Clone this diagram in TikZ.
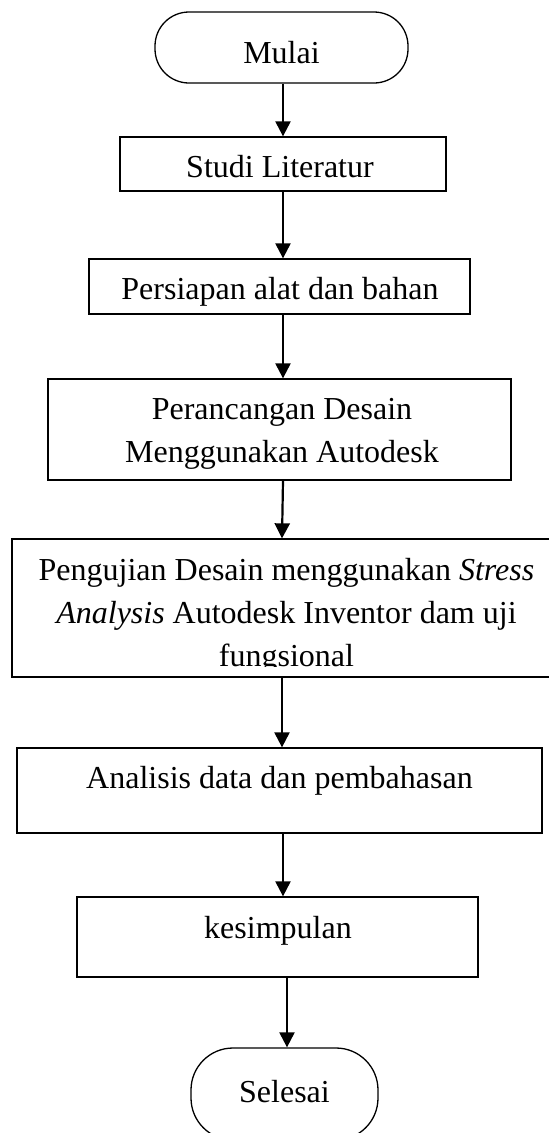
\documentclass[tikz,border=0pt]{standalone}
\usepackage{fontspec}
\setmainfont{Liberation Serif}
\usetikzlibrary{arrows.meta}
\begin{document}
\begin{tikzpicture}[x=1pt,y=-1pt,
  box/.style={draw,line width=1.3pt,inner sep=0pt},
  term/.style={draw,line width=1.3pt,inner sep=0pt},
  arr/.style={line width=2.2pt,-{Triangle[length=15pt,width=15pt]}},
  lbl/.style={font=\fontsize{32}{43}\selectfont,inner sep=0pt,align=center,anchor=base}]
\useasboundingbox (0,0) rectangle (549,1133);
\clip (0,0) rectangle (549,1133);
\fill[white] (0,0) rectangle (549,1133);
% terminals and boxes
\node[term,rounded corners=34pt,minimum width=253pt,minimum height=71pt] (mulai) at (281.5,47.5) {};
\node[lbl] (tmulai) at (281.5,63) {Mulai};
\node[box,minimum width=326pt,minimum height=54pt] (studi) at (283,164) {};
\node[lbl] (tstudi) at (280,177) {Studi Literatur};
\node[box,minimum width=381pt,minimum height=55pt] (persiapan) at (279.5,286.5) {};
\node[lbl] (tpersiapan) at (280,299) {Persiapan alat dan bahan};
\node[box,minimum width=463pt,minimum height=101pt] (perancangan) at (279.5,429.5) {};
\node[lbl] (tperancangan) at (282,462) {Perancangan Desain\\Menggunakan Autodesk};
\node[box,minimum width=549pt,minimum height=138pt] (pengujian) at (286.5,608) {};
\begin{scope}
  \clip (pengujian.north west) rectangle (pengujian.east |- 0,666);
  \node[lbl] (tpengujian) at (286.5,666) {Pengujian Desain menggunakan \textit{Stress}\\\textit{Analysis} Autodesk Inventor dam uji\\fungsional};
\end{scope}
\node[box,minimum width=525pt,minimum height=85pt] (analisis) at (279.5,790.5) {};
\node[lbl] (tanalisis) at (279.5,788) {Analisis data dan pembahasan};
\node[box,minimum width=401pt,minimum height=80pt] (kesimpulan) at (277.5,937) {};
\node[lbl] (tkesimpulan) at (278,938) {kesimpulan};
\node[term,rounded corners=42pt,minimum width=187pt,minimum height=92pt] (selesai) at (284.5,1094) {};
\node[lbl] (tselesai) at (284.5,1102) {Selesai};
% connectors
\draw[arr] ([xshift=1.5pt]mulai.south) -- (studi.north);
\draw[arr] (studi.south) -- ([xshift=3.5pt]persiapan.north);
\draw[arr] ([xshift=3.5pt]persiapan.south) -- ([xshift=3.5pt]perancangan.north);
\draw[arr] ([xshift=3.5pt]perancangan.south) -- ([xshift=-4.5pt]pengujian.north);
\draw[arr] ([xshift=-4.5pt]pengujian.south) -- ([xshift=2.5pt]analisis.north);
\draw[arr] ([xshift=3.5pt]analisis.south) -- ([xshift=5.5pt]kesimpulan.north);
\draw[arr] ([xshift=9.5pt]kesimpulan.south) -- ([xshift=2.5pt]selesai.north);
\end{tikzpicture}
\end{document}
